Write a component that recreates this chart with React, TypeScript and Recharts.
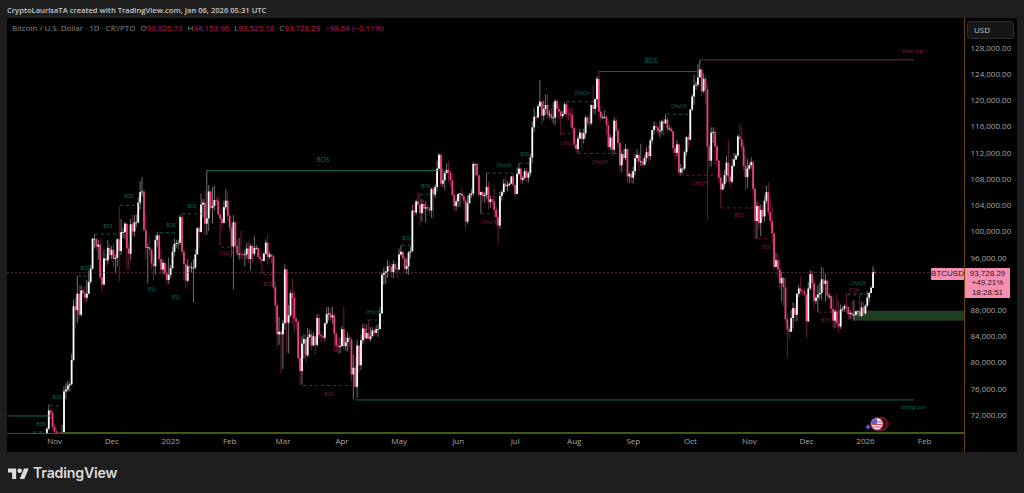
import React from "react";
import {
  Bar,
  ComposedChart,
  ReferenceArea,
  ReferenceDot,
  ReferenceLine,
  XAxis,
  YAxis,
} from "recharts";

const FIRST_DAY = 20; // Oct 27 2024, earlier candles sit below the visible range
const FIRST_OPEN = 67.0;

// daily closes, highs and lows in thousands of USD, one line per month
const closes = [
  67.9, 69.9, 72.7, 72.3, 70.2,
  69.5, 69.3, 68.8, 67.8, 69.4, 75.6, 75.9, 76.5, 76.7, 80.4, 88.6, 88.0, 90.5, 87.3, 91.0, 90.6, 89.9, 90.5, 92.3, 94.3, 98.9, 98.9, 97.7, 98.0, 93.0, 91.9, 95.9, 95.6, 97.5, 96.4,
  97.2, 95.8, 96.0, 98.8, 97.0, 99.9, 99.9, 101.2, 97.4, 96.6, 101.1, 100.0, 101.4, 101.4, 104.4, 106.0, 106.1, 100.2, 97.5, 97.6, 97.2, 95.1, 94.7, 98.7, 99.4, 95.8, 94.2, 95.2, 93.6, 92.6, 93.4,
  94.4, 96.9, 98.1, 98.2, 98.3, 102.2, 96.9, 95.0, 92.5, 94.7, 94.5, 94.5, 94.5, 96.5, 100.5, 99.9, 104.1, 104.4, 101.2, 102.0, 106.1, 103.6, 103.9, 104.8, 104.7, 102.6, 102.0, 101.3, 103.7, 104.7, 102.4,
  100.6, 97.7, 101.4, 97.8, 96.6, 96.6, 96.5, 96.4, 96.5, 97.4, 95.8, 97.8, 96.6, 97.5, 97.5, 96.1, 95.8, 95.5, 96.6, 98.3, 96.1, 96.5, 96.2, 91.5, 88.7, 84.3, 84.7, 84.3,
  86.0, 94.2, 86.1, 87.2, 90.6, 89.9, 86.7, 86.2, 80.7, 78.7, 82.9, 83.6, 81.1, 83.9, 84.3, 82.6, 84.0, 82.7, 86.8, 84.2, 84.0, 83.8, 86.0, 87.4, 87.5, 86.9, 87.2, 84.4, 82.6, 82.4, 82.5,
  85.1, 82.5, 83.1, 83.8, 83.5, 78.2, 79.2, 76.3, 82.6, 79.6, 83.4, 85.2, 83.7, 84.5, 83.6, 84.0, 84.9, 84.5, 85.1, 85.1, 87.5, 93.4, 93.7, 93.9, 94.7, 94.6, 93.8, 95.0, 94.3, 94.2,
  96.5, 96.9, 95.9, 94.3, 94.7, 96.8, 97.0, 103.2, 102.9, 104.6, 104.1, 102.8, 104.2, 103.5, 103.7, 103.5, 103.2, 106.5, 105.6, 106.8, 109.6, 111.7, 107.3, 107.8, 108.9, 109.4, 109.0, 107.8, 105.6, 103.9, 104.6,
  105.7, 105.8, 105.4, 104.7, 101.5, 104.3, 105.6, 105.8, 110.3, 110.3, 108.6, 105.6, 106.0, 105.4, 105.6, 106.8, 104.5, 104.9, 104.6, 103.3, 102.2, 100.9, 105.4, 106.0, 107.3, 106.9, 107.1, 107.3, 108.4, 107.1,
  105.7, 108.8, 109.6, 107.9, 108.2, 109.2, 108.2, 108.9, 111.3, 115.9, 117.5, 117.4, 119.1, 119.8, 117.7, 118.7, 119.3, 117.9, 117.9, 117.3, 117.4, 119.9, 118.7, 118.3, 117.6, 117.9, 119.4, 118.0, 117.9, 117.8, 115.8,
  113.3, 112.6, 114.2, 115.1, 114.1, 115.0, 117.4, 116.6, 116.5, 119.3, 118.7, 120.2, 123.3, 118.3, 117.4, 117.4, 117.5, 116.2, 112.9, 114.3, 112.5, 116.9, 115.4, 113.5, 110.1, 111.8, 111.2, 112.6, 108.4, 108.8, 108.2,
  109.2, 111.2, 111.7, 110.7, 110.7, 110.2, 111.2, 112.1, 111.5, 113.9, 115.5, 116.1, 115.9, 115.3, 115.4, 116.8, 116.5, 117.1, 115.7, 115.7, 115.3, 112.7, 112.0, 113.3, 109.0, 109.6, 109.6, 112.1, 114.4, 114.0,
  118.6, 120.6, 122.3, 122.4, 123.5, 124.7, 121.4, 123.3, 121.7, 113.0, 110.8, 115.1, 115.2, 113.0, 110.8, 108.2, 106.4, 107.2, 108.6, 110.5, 108.4, 107.6, 110.0, 111.0, 111.6, 114.5, 114.1, 112.9, 110.0, 108.3, 109.6,
  110.1, 110.6, 106.5, 101.6, 103.9, 101.3, 103.3, 102.3, 104.7, 106.0, 103.0, 101.6, 99.7, 94.6, 95.6, 94.2, 92.1, 92.9, 91.5, 86.6, 85.1, 84.7, 86.8, 88.3, 87.3, 90.5, 91.3, 90.9, 90.8, 90.4,
  86.3, 91.3, 93.5, 92.1, 89.4, 89.9, 90.4, 90.6, 92.7, 92.0, 92.5, 90.2, 90.2, 88.2, 86.4, 87.8, 86.0, 85.5, 88.1, 88.2, 88.6, 88.5, 87.4, 87.6, 87.2, 87.3, 87.8, 87.8, 87.1, 88.4, 87.5,
  88.7, 89.9, 90.6, 91.4, 93.8, 93.7,
];

const highs = [
  68.3, 70.2, 73.6, 72.9, 72.7,
  70.6, 70.0, 69.5, 69.4, 70.5, 76.4, 76.9, 77.2, 77.0, 81.3, 89.6, 89.9, 93.2, 91.8, 91.8, 91.5, 91.7, 92.6, 94.0, 94.9, 99.0, 99.6, 99.0, 98.7, 98.9, 94.7, 97.3, 96.6, 98.7, 98.0,
  97.8, 98.2, 96.5, 99.0, 103.9, 101.9, 100.5, 101.4, 101.2, 98.2, 101.9, 102.5, 102.5, 102.6, 105.2, 107.7, 108.3, 106.5, 102.8, 98.2, 99.4, 97.4, 96.4, 99.4, 99.9, 99.9, 97.3, 95.7, 95.3, 94.9, 96.0,
  94.9, 97.7, 98.9, 98.7, 98.8, 102.5, 102.7, 97.2, 95.3, 95.8, 95.0, 95.3, 95.8, 97.3, 100.7, 100.9, 105.8, 105.0, 106.3, 109.4, 107.1, 106.3, 106.8, 107.0, 105.3, 105.4, 103.0, 103.7, 104.7, 106.4, 106.0,
  102.8, 101.4, 102.5, 101.7, 98.8, 99.0, 100.1, 96.9, 97.3, 98.3, 98.5, 98.1, 98.0, 99.4, 97.9, 97.7, 97.0, 96.7, 96.9, 98.8, 99.5, 96.9, 96.6, 96.5, 92.5, 89.3, 87.0, 85.1,
  86.5, 95.0, 94.4, 88.8, 91.0, 92.8, 90.9, 87.0, 86.4, 83.7, 84.0, 84.3, 84.3, 85.3, 85.0, 84.9, 84.7, 84.0, 87.4, 87.4, 84.8, 84.5, 86.1, 88.5, 88.5, 88.2, 88.5, 87.5, 84.6, 83.8, 83.8,
  85.6, 88.5, 83.9, 84.7, 84.2, 83.8, 81.2, 80.8, 83.5, 82.6, 84.3, 85.9, 86.0, 85.8, 86.5, 85.4, 85.4, 85.3, 85.7, 85.9, 88.5, 93.8, 94.5, 94.0, 95.7, 95.3, 95.0, 95.6, 95.4, 95.2,
  97.4, 97.9, 97.0, 96.3, 95.9, 97.0, 97.7, 104.0, 104.3, 104.9, 106.0, 105.8, 104.9, 104.8, 104.6, 104.2, 103.9, 106.7, 107.1, 107.3, 110.8, 112.0, 111.9, 109.5, 109.3, 110.4, 110.7, 109.3, 108.9, 106.3, 105.0,
  105.9, 105.9, 106.8, 105.9, 105.0, 105.5, 105.9, 106.5, 110.6, 110.4, 110.4, 108.6, 106.1, 106.2, 106.0, 108.9, 107.7, 105.5, 105.4, 106.5, 104.0, 103.3, 106.1, 106.3, 108.0, 108.3, 107.7, 107.5, 108.5, 108.8,
  107.1, 109.8, 110.5, 109.7, 108.5, 109.7, 109.7, 109.2, 111.9, 116.8, 118.9, 118.0, 119.5, 123.1, 119.9, 120.0, 120.9, 120.9, 118.5, 118.9, 119.7, 120.2, 120.1, 119.4, 118.5, 118.4, 119.8, 119.8, 119.0, 118.8, 118.9,
  116.0, 114.0, 114.7, 115.7, 115.1, 115.7, 117.7, 117.7, 117.9, 119.4, 122.3, 120.3, 123.7, 124.4, 119.2, 117.9, 118.5, 117.6, 116.8, 114.8, 114.6, 117.4, 117.4, 115.7, 113.6, 112.3, 112.6, 113.4, 112.7, 109.0, 109.4,
  109.9, 111.8, 112.6, 112.0, 113.4, 111.3, 111.7, 112.9, 113.2, 114.3, 115.5, 116.8, 116.7, 116.0, 116.8, 117.0, 117.2, 117.9, 117.5, 116.2, 116.0, 115.4, 113.2, 114.0, 113.5, 110.3, 109.8, 112.4, 114.5, 114.8,
  118.7, 121.0, 123.9, 122.9, 125.6, 126.2, 125.0, 124.1, 123.7, 122.5, 113.4, 115.9, 115.9, 115.9, 113.6, 111.0, 109.2, 107.5, 109.4, 111.6, 114.0, 109.4, 111.2, 112.0, 111.9, 114.8, 116.4, 116.0, 113.6, 111.5, 111.1,
  110.5, 111.3, 110.8, 106.9, 104.6, 104.2, 104.1, 104.1, 105.5, 107.0, 107.5, 105.3, 104.1, 99.8, 96.8, 96.6, 96.0, 93.9, 93.1, 92.9, 87.5, 85.6, 88.1, 89.2, 89.0, 90.6, 91.9, 93.1, 91.2, 91.5,
  90.4, 92.3, 94.1, 94.0, 92.7, 90.3, 91.8, 92.2, 94.6, 94.5, 93.6, 92.7, 90.6, 89.8, 90.0, 88.2, 90.4, 89.4, 88.9, 88.6, 89.0, 90.6, 88.0, 88.0, 89.4, 89.5, 87.9, 88.0, 90.2, 89.3, 89.2,
  88.9, 90.9, 90.8, 91.7, 94.7, 94.2,
];

const lows = [
  66.8, 67.6, 69.7, 71.4, 69.7,
  68.8, 68.8, 67.6, 66.8, 67.5, 68.8, 74.4, 75.5, 75.6, 76.5, 80.2, 85.2, 86.0, 86.7, 87.0, 90.0, 89.1, 89.4, 90.5, 92.0, 94.2, 97.4, 97.1, 95.7, 92.6, 90.8, 91.8, 94.6, 95.0, 95.8,
  95.8, 94.5, 93.6, 94.6, 92.4, 96.4, 99.0, 98.8, 94.2, 94.2, 95.6, 99.3, 99.2, 100.7, 101.2, 103.3, 105.3, 100.0, 95.6, 92.1, 96.3, 94.2, 92.5, 93.4, 97.6, 95.2, 93.5, 93.4, 93.2, 91.9, 92.0,
  92.9, 94.3, 96.2, 97.5, 97.3, 97.9, 96.1, 92.5, 91.3, 92.2, 93.8, 93.8, 89.2, 94.2, 96.5, 97.3, 99.9, 102.2, 99.5, 99.5, 100.1, 103.2, 101.2, 103.2, 104.1, 102.4, 97.8, 100.2, 101.4, 103.3, 101.6,
  100.0, 96.1, 91.2, 97.4, 96.2, 95.7, 95.7, 95.7, 94.7, 95.8, 95.2, 94.1, 95.2, 96.2, 97.2, 95.9, 95.2, 93.4, 95.5, 96.4, 94.9, 95.8, 95.2, 91.2, 86.1, 82.3, 82.7, 78.3,
  79.0, 85.0, 81.4, 81.4, 86.9, 85.9, 84.6, 85.0, 80.1, 76.6, 76.6, 80.6, 80.0, 80.8, 83.7, 81.9, 82.5, 81.2, 82.4, 83.6, 83.2, 83.6, 83.2, 85.7, 86.4, 86.4, 85.9, 81.6, 81.6, 81.3, 81.4,
  82.4, 82.0, 81.8, 81.7, 82.4, 77.1, 74.4, 76.0, 74.6, 78.4, 78.9, 82.8, 83.0, 83.6, 83.6, 83.2, 84.1, 84.2, 84.6, 83.9, 85.2, 87.4, 91.9, 92.0, 92.9, 93.9, 92.9, 92.9, 93.7, 92.9,
  94.1, 96.3, 95.8, 94.0, 93.5, 93.4, 95.9, 96.9, 102.4, 102.5, 103.7, 100.8, 101.5, 102.7, 101.4, 103.1, 102.7, 102.1, 102.0, 105.1, 106.1, 109.2, 106.8, 106.8, 106.3, 108.9, 107.6, 106.9, 105.4, 103.0, 103.2,
  103.7, 103.8, 105.0, 104.2, 100.4, 101.1, 104.9, 105.1, 105.4, 108.4, 108.1, 105.4, 102.7, 104.4, 104.4, 105.0, 103.4, 103.6, 103.9, 102.2, 100.9, 98.2, 100.4, 104.7, 105.7, 106.6, 106.1, 106.9, 107.2, 106.8,
  105.2, 105.7, 108.5, 107.3, 107.3, 107.8, 107.5, 107.5, 108.4, 110.5, 115.2, 116.9, 117.3, 118.9, 116.3, 116.9, 117.8, 117.2, 117.3, 116.9, 116.5, 116.2, 117.3, 117.1, 114.7, 117.2, 117.9, 117.4, 117.0, 115.9, 115.0,
  112.7, 112.0, 112.0, 114.1, 112.7, 113.4, 114.3, 115.9, 116.1, 116.2, 118.0, 117.8, 118.9, 117.2, 116.8, 117.2, 117.2, 114.8, 112.7, 112.4, 111.6, 111.8, 114.5, 112.8, 109.2, 109.0, 110.7, 110.9, 107.3, 107.4, 107.4,
  107.3, 108.6, 110.5, 109.3, 110.0, 109.9, 110.0, 110.6, 110.8, 110.9, 113.4, 114.8, 115.2, 114.8, 114.3, 114.8, 114.6, 116.4, 115.2, 115.4, 115.1, 112.0, 111.0, 111.4, 108.7, 108.6, 108.9, 109.3, 111.6, 112.7,
  113.9, 118.4, 119.3, 121.6, 122.0, 123.7, 120.6, 121.1, 119.5, 102.0, 109.6, 109.9, 113.5, 110.2, 109.9, 107.5, 103.6, 106.3, 106.6, 107.5, 107.5, 106.8, 107.3, 109.8, 110.9, 111.3, 113.8, 112.1, 109.3, 106.3, 106.6,
  109.3, 109.6, 105.3, 98.9, 98.9, 100.3, 99.3, 101.5, 101.5, 104.3, 102.5, 100.6, 98.0, 94.0, 94.6, 93.0, 91.2, 89.3, 88.6, 86.0, 80.6, 83.5, 84.7, 85.2, 86.2, 86.3, 90.0, 90.3, 90.2, 90.2,
  83.8, 86.2, 91.0, 90.9, 88.2, 88.9, 87.7, 89.6, 89.6, 91.0, 89.3, 89.5, 89.7, 87.6, 85.2, 85.3, 85.3, 84.5, 85.1, 87.8, 87.7, 87.6, 86.6, 86.6, 86.6, 86.4, 87.1, 87.2, 86.7, 86.9, 87.2,
  87.2, 88.4, 89.3, 90.6, 91.4, 93.5,
];

// 92,000 is left out, the reference has it hidden behind the price tag
const priceTicks = [72, 76, 80, 84, 88, 96, 100, 104, 108, 112, 116, 120, 124, 128];
const monthDays = [25, 55, 86, 117, 145, 176, 206, 237, 267, 298, 329, 359, 390, 420, 451, 482];
const monthLabels = ["Nov", "Dec", "2025", "Feb", "Mar", "Apr", "May", "Jun", "Jul", "Aug", "Sep", "Oct", "Nov", "Dec", "2026", "Feb"];

// structure levels: [start day, end day, price]
const greenSolid = [
  [0, 22.6, 71.85],
  [105, 226.5, 109.3],
  [311, 362.5, 124.4],
  [182.8, 476.5, 74.3],
];
const redSolid = [[364, 476.5, 126.2]];
const greenDashed = [
  [13.7, 20, 69.4],
  [22.6, 28, 73.4],
  [37.3, 43.6, 93.2],
  [46.2, 59.4, 99.6],
  [59.4, 70, 104.0],
  [80.4, 89.8, 99.8],
  [92, 104, 102.7],
  [190, 196, 86.5],
  [207.5, 212.8, 97.9],
  [217, 225, 105.7],
  [252, 267, 108.9],
  [269.5, 276, 110.4],
  [294, 309, 119.8],
  [346.7, 358.8, 117.9],
  [441.8, 452.3, 90.5],
];
const redDashed = [
  [112.4, 118.2, 97.6],
  [135, 141, 93.4],
  [155.5, 181, 76.5],
  [249, 255, 102.7],
  [291.5, 297.3, 114.9],
  [300, 320.4, 111.9],
  [353.5, 374.5, 108.6],
  [375, 393, 103.6],
  [394.5, 400.8, 98.9],
  [426, 435, 87.7],
  [441.3, 448.6, 90.3],
];

// structure labels: [day, price, text]
const greenLabels: [number, number, string][] = [
  [17.9, 70.6, "BOS"],
  [26.3, 74.7, "BOS"],
  [41, 94.4, "BOS"],
  [53, 100.8, "BOS"],
  [64, 105.3, "BOS"],
  [86.2, 101, "BOS"],
  [97.2, 103.9, "BOS"],
  [76.2, 91.1, "EQL"],
  [88.8, 89.9, "EQL"],
  [192.3, 87.6, "CHoCH"],
  [210, 99, "BOS"],
  [220, 106.9, "BOS"],
  [261, 110.1, "CHoCH"],
  [272, 111.7, "BOS"],
  [302, 121.1, "CHoCH"],
  [353, 119.1, "CHoCH"],
  [447, 92.06, "CHoCH"],
  [476, 73.1, "Strong Low"],
];
const greenMajorLabels: [number, number, string][] = [
  [166, 110.9, "BOS"],
  [338.3, 126, "BOS"],
];
const redLabels: [number, number, string][] = [
  [115, 96.6, "CHoCH"],
  [137, 92, "BOS"],
  [169, 75.2, "BOS"],
  [253, 101.4, "CHoCH"],
  [294.7, 113.5, "CHoCH"],
  [311.5, 110.6, "CHoCH"],
  [364, 107.4, "CHoCH"],
  [384.5, 102.4, "BOS"],
  [399, 97.6, "BOS"],
  [430, 86.5, "BOS"],
  [445, 91.07, "EQH"],
  [476, 127.5, "Weak High"],
];

const candles = closes.map((close, i) => ({
  day: FIRST_DAY + i,
  open: (i === 0 ? FIRST_OPEN : closes[i - 1]) * 1000,
  close: close * 1000,
  range: [lows[i] * 1000, highs[i] * 1000],
}));

const FONT = '"Open Sans", sans-serif';
const GREEN = "#0f7a63";
const RED = "#8f1f45";
const PINK = "#ee3f7f";
const AXIS_ORANGE = "#6e440c";

const Candle = (props: any) => {
  const { x, y, width, height, payload } = props;
  const [low, high] = payload.range;
  const up = payload.close >= payload.open;
  const perUnit = Math.abs(height) / (high - low);
  const top = y + (high - Math.max(payload.open, payload.close)) * perUnit;
  const bodyHeight = Math.max(Math.abs(payload.close - payload.open) * perUnit, 0.8);
  const cx = x + width / 2;
  return (
    <g>
      <line x1={cx} x2={cx} y1={y} y2={y + Math.abs(height)} stroke={up ? "#7d7d7d" : "#7c1c45"} strokeWidth={0.9} />
      <rect x={cx - 0.9} y={top} width={1.8} height={bodyHeight} fill={up ? "#ffffff" : PINK} />
    </g>
  );
};

const smallLabel = (text: string, fill: string, fontSize: number) => ({
  value: text,
  position: "center" as const,
  fill,
  fontSize,
  fontFamily: FONT,
});

const App = () => {
  return (
    <div style={{ position: "absolute", left: 0, top: 0, width: 1024, height: 493, background: "#1e1e1e", overflow: "hidden", fontFamily: FONT }}>
      <div style={{ position: "absolute", left: 7, top: 5, fontSize: 7.6, fontWeight: 600, color: "#c8c8c8", whiteSpace: "nowrap" }}>
        CryptoLaurisaTA created with TradingView.com, Jan 06, 2026 05:31 UTC
      </div>
      <div style={{ position: "absolute", left: 7, top: 18, width: 1010, height: 434, background: "#000" }} />
      <div style={{ position: "absolute", left: 0, top: 0 }}>
        <ComposedChart
          width={1024}
          height={493}
          data={candles}
          margin={{ top: 18, left: 7, right: 7, bottom: 41 }}
          barSize={2}
        >
          <XAxis
            dataKey="day"
            type="number"
            domain={[0, 503]}
            ticks={monthDays}
            tickFormatter={(d: number) => monthLabels[monthDays.indexOf(d)]}
            interval={0}
            height={18.5}
            axisLine={{ stroke: AXIS_ORANGE }}
            tickLine={false}
            tickSize={0}
            tick={{ fill: "#a8a8a8", fontSize: 8, fontFamily: FONT }}
            tickMargin={5}
            allowDataOverflow
          />
          <YAxis
            orientation="right"
            width={52.5}
            domain={[69177, 132577]}
            ticks={priceTicks.map((t) => t * 1000)}
            tickFormatter={(v: number) => v.toLocaleString("en-US", { minimumFractionDigits: 2 })}
            interval={0}
            axisLine={{ stroke: AXIS_ORANGE }}
            tickLine={false}
            tickSize={0}
            tick={{ fill: "#a8a8a8", fontSize: 8, fontFamily: FONT }}
            tickMargin={6}
            allowDataOverflow
          />
          <ReferenceArea x1={444.5} x2={503} y1={86400} y2={87900} fill="#1f3d1f" fillOpacity={1} stroke="none" />
          <ReferenceLine y={93728.29} stroke="#9a4566" strokeDasharray="1.2 2.8" />
          <ReferenceLine
            segment={[{ x: 28, y: 69330 }, { x: 503, y: 69330 }]}
            stroke="#3f5c18"
          />
          {greenSolid.map(([a, b, p], i) => (
            <ReferenceLine key={`gs${i}`} segment={[{ x: a, y: p * 1000 }, { x: b, y: p * 1000 }]} stroke={GREEN} strokeWidth={0.9} />
          ))}
          {redSolid.map(([a, b, p], i) => (
            <ReferenceLine key={`rs${i}`} segment={[{ x: a, y: p * 1000 }, { x: b, y: p * 1000 }]} stroke={RED} strokeWidth={0.9} />
          ))}
          {greenDashed.map(([a, b, p], i) => (
            <ReferenceLine key={`gd${i}`} segment={[{ x: a, y: p * 1000 }, { x: b, y: p * 1000 }]} stroke={GREEN} strokeWidth={0.8} strokeDasharray="3 3" />
          ))}
          {redDashed.map(([a, b, p], i) => (
            <ReferenceLine key={`rd${i}`} segment={[{ x: a, y: p * 1000 }, { x: b, y: p * 1000 }]} stroke={RED} strokeWidth={0.8} strokeDasharray="3 3" />
          ))}
          <Bar dataKey="range" shape={Candle} isAnimationActive={false} />
          {greenLabels.map(([d, p, text], i) => (
            <ReferenceDot key={`gl${i}`} x={d} y={p * 1000} r={0} stroke="none" label={smallLabel(text, GREEN, 4.6)} />
          ))}
          {greenMajorLabels.map(([d, p, text], i) => (
            <ReferenceDot key={`gm${i}`} x={d} y={p * 1000} r={0} stroke="none" label={smallLabel(text, GREEN, 6.5)} />
          ))}
          {redLabels.map(([d, p, text], i) => (
            <ReferenceDot key={`rl${i}`} x={d} y={p * 1000} r={0} stroke="none" label={smallLabel(text, RED, 4.6)} />
          ))}
        </ComposedChart>
      </div>

      <div style={{ position: "absolute", left: 12, top: 23, fontSize: 7.95, color: "#8a8a8a", whiteSpace: "nowrap" }}>
        Bitcoin / U.S. Dollar · 1D · CRYPTO
        <span style={{ marginLeft: 5 }}>O</span><span style={{ color: "#c2185b" }}>93,826.73</span>
        <span style={{ marginLeft: 5 }}>H</span><span style={{ color: "#c2185b" }}>94,153.96</span>
        <span style={{ marginLeft: 5 }}>L</span><span style={{ color: "#c2185b" }}>93,525.18</span>
        <span style={{ marginLeft: 5 }}>C</span><span style={{ color: "#c2185b" }}>93,728.29</span>
        <span style={{ marginLeft: 5, color: "#c2185b" }}>−98.64 (−0.11%)</span>
      </div>

      {/* price scale furniture */}
      <div style={{ position: "absolute", left: 964, top: 18, width: 1, height: 434, background: AXIS_ORANGE }} />
      <div style={{ position: "absolute", left: 967, top: 21, width: 47, height: 18, boxSizing: "border-box", border: "1px solid #2e2e2e", borderRadius: 3, background: "#161616", color: "#c8c8c8", fontSize: 8, lineHeight: "16px", paddingLeft: 6 }}>
        USD
      </div>
      <div style={{ position: "absolute", left: 931, top: 268, width: 33, height: 12, background: "#f48fb1", color: "#3a1020", fontSize: 8, lineHeight: "12px", textAlign: "center", borderRadius: "1px 0 0 1px", fontFamily: '"Liberation Sans", sans-serif' }}>
        BTCUSD
      </div>
      <div style={{ position: "absolute", left: 965, top: 268, width: 45, height: 30, background: "#f48fb1", color: "#3a1020", fontSize: 8, lineHeight: "9.6px", textAlign: "center", paddingTop: 0.5, boxSizing: "border-box", fontFamily: '"Liberation Sans", sans-serif' }}>
        93,728.29<br />+49.21%<br />18:28:51
      </div>

      {/* economic event marker */}
      <svg style={{ position: "absolute", left: 862, top: 414 }} width={30} height={20}>
        <path d="M6 10 L7 12 L9 13 L7 14 L6 16 L5 14 L3 13 L5 12 Z" fill="#7c4dff" />
        <circle cx={20} cy={10} r={6.2} fill="#000" stroke="#b71c3c" strokeWidth={1} />
        <circle cx={18} cy={10} r={6.2} fill="#000" stroke="#b71c3c" strokeWidth={1} />
        <circle cx={15} cy={10} r={6.2} fill="#e8e8f0" stroke="#b71c3c" strokeWidth={1} />
        <path d="M9.8 8 H20.2 M9.3 10.5 H20.7 M10.2 13 H19.8" stroke="#d84a5a" strokeWidth={1} />
        <path d="M15 4.4 A5.6 5.6 0 0 0 9.4 10 H15 Z" fill="#3f6fd0" />
      </svg>

      {/* TradingView footer */}
      <svg style={{ position: "absolute", left: 8, top: 466 }} width={21} height={13} viewBox="0 0 36 22">
        <path d="M14 22H7V11H0V4h14v18zM28 22h-8l7.5-18h8L28 22z" fill="#dcdcdc" />
        <circle cx={20} cy={8} r={4} fill="#dcdcdc" />
      </svg>
      <div style={{ position: "absolute", left: 33, top: 464, fontSize: 14.2, fontWeight: 600, color: "#dcdcdc", whiteSpace: "nowrap", fontFamily: '"Inter", sans-serif', letterSpacing: -0.2 }}>
        TradingView
      </div>
    </div>
  );
};

export default App;
